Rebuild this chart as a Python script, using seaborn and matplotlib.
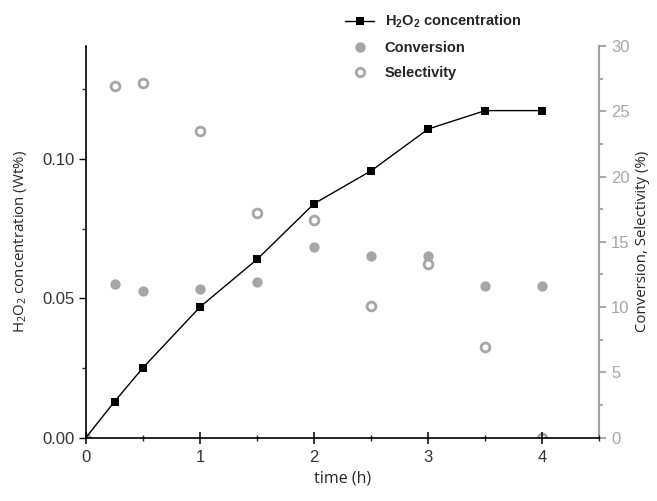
import matplotlib
matplotlib.use("Agg")
import matplotlib.pyplot as plt
import seaborn as sns
import pandas as pd
from matplotlib.lines import Line2D
from matplotlib.ticker import MultipleLocator

# ---- data ----
time_h2o2 = [0, 0.25, 0.5, 1, 1.5, 2, 2.5, 3, 3.5, 4]
h2o2 = [0.0, 0.0129, 0.0251, 0.0469, 0.0640, 0.0840, 0.0958, 0.1108, 0.1174, 0.1174]
time_conv = [0, 0.25, 0.5, 1, 1.5, 2, 2.5, 3, 3.5, 4]
conversion = [0.0, 11.8, 11.2, 11.4, 11.9, 14.6, 13.9, 13.9, 11.6, 11.6]
time_sel = [0.25, 0.5, 1, 1.5, 2, 2.5, 3, 3.5, 4]
selectivity = [26.9, 27.2, 23.5, 17.2, 16.7, 10.1, 13.3, 6.9, 0.0]
x_ticks = [0, 1, 2, 3, 4]
left_ticks = [0.00, 0.05, 0.10]
right_ticks = [0, 5, 10, 15, 20, 25, 30]

df_h = pd.DataFrame({"time": time_h2o2, "h2o2": h2o2})
df_c = pd.DataFrame({"time": time_conv, "conv": conversion})
df_s = pd.DataFrame({"time": time_sel, "sel": selectivity})

sns.set_style("white")
plt.rcParams["font.family"] = ["Liberation Sans", "DejaVu Sans"]
plt.rcParams["mathtext.fontset"] = "custom"
plt.rcParams["mathtext.rm"] = "Open Sans"
plt.rcParams["mathtext.it"] = "Open Sans:italic"
plt.rcParams["mathtext.bf"] = "Liberation Sans:bold"

GRAY = "#a6a6a6"
SPINE_GRAY = "#a0a0a0"

fig = plt.figure(figsize=(6.57, 5.01), dpi=100)
ax = fig.add_axes([0.1309, 0.1267, 0.7814, 0.7815])
ax2 = ax.twinx()

sns.lineplot(data=df_h, x="time", y="h2o2", ax=ax, color="black", lw=1.0,
             marker="s", markersize=6, markeredgewidth=0, markevery=list(range(1, len(h2o2))),
             zorder=3, legend=False)
sns.scatterplot(data=df_c, x="time", y="conv", ax=ax2, color=GRAY, s=55,
                linewidth=0, zorder=2, legend=False)
sns.scatterplot(data=df_s, x="time", y="sel", ax=ax2, facecolor="white",
                edgecolor=GRAY, s=40, linewidth=2.0, zorder=2, legend=False)

ax.set_xlim(0, 4.5)
ax.set_ylim(0, 0.1406)
ax2.set_ylim(0, 30)

ax.set_xticks(x_ticks)
ax.set_xticklabels([str(t) for t in x_ticks])
ax.xaxis.set_minor_locator(MultipleLocator(0.5))
ax.set_yticks(left_ticks)
ax.set_yticklabels([f"{v:.2f}" for v in left_ticks])
ax.yaxis.set_minor_locator(MultipleLocator(0.025))
ax2.set_yticks(right_ticks)
ax2.set_yticklabels([str(v) for v in right_ticks])
ax2.yaxis.set_minor_locator(MultipleLocator(2.5))

for a in (ax, ax2):
    a.spines["top"].set_visible(False)
    a.set_facecolor("none")
ax.patch.set_visible(False)
ax.set_zorder(ax2.get_zorder() + 1)

ax.spines["left"].set_color("black")
ax.spines["bottom"].set_color("black")
ax.spines["right"].set_visible(False)
ax2.spines["left"].set_visible(False)
ax2.spines["bottom"].set_visible(False)
ax2.spines["right"].set_color(SPINE_GRAY)
for s in ("left", "bottom"):
    ax.spines[s].set_linewidth(1.2)
ax2.spines["right"].set_linewidth(1.5)

ax.tick_params(axis="x", which="major", direction="inout", length=8, width=1.1,
               labelsize=12, colors="black", bottom=True, pad=5)
ax.tick_params(axis="x", which="minor", direction="inout", length=5, width=1.0, bottom=True)
ax.tick_params(axis="y", which="major", direction="out", length=5, width=1.0,
               labelsize=12, colors="black", left=True, labelcolor="#333333")
ax.tick_params(axis="y", which="minor", direction="out", length=3, width=1.0, left=True)
ax.tick_params(axis="x", labelcolor="#333333")
ax2.tick_params(axis="y", which="major", direction="out", length=5, width=1.3,
                color=SPINE_GRAY, labelcolor=GRAY, labelsize=12, right=True)
ax2.tick_params(axis="y", which="minor", direction="out", length=3, width=1.3,
                color=SPINE_GRAY, right=True)

ax.set_xlabel("time (h)", fontsize=11.5, family="Open Sans", labelpad=4)
ax.set_ylabel("H$_2$O$_2$ concentration (Wt%)", fontsize=10.8, family="Open Sans", labelpad=9)
ax2.set_ylabel("Conversion, Selectivity (%)", fontsize=10.8, family="Open Sans", labelpad=4)

handles = [
    Line2D([0], [0], color="black", lw=1.0, marker="s", markersize=6, markeredgewidth=0),
    Line2D([0], [0], color=GRAY, lw=0, marker="o", markersize=7.5, markeredgewidth=0),
    Line2D([0], [0], color=GRAY, lw=0, marker="o", markersize=6, markerfacecolor="white",
           markeredgecolor=GRAY, markeredgewidth=2.0),
]
labels = [r"$\mathbf{H_2O_2}$ concentration", "Conversion", "Selectivity"]
fig.legend(handles, labels, loc="upper left", bbox_to_anchor=(0.51, 0.995),
           frameon=False, prop={"weight": "bold", "size": 10.5, "family": "Liberation Sans"},
           handlelength=2.0, handletextpad=0.7, labelspacing=0.75, borderaxespad=0.3)

fig.savefig("out.png", dpi=100)
